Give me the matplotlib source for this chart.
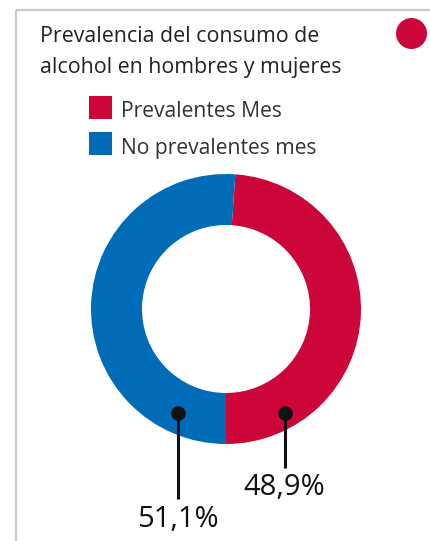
import matplotlib
matplotlib.use("Agg")
import matplotlib.pyplot as plt
from matplotlib.patches import Circle, Rectangle

# Data
categories = ["Prevalentes Mes", "No prevalentes mes"]
shares = [48.9, 51.1]
value_labels = ["48,9%", "51,1%"]
colors = ["#CC0638", "#006BB6"]
title_lines = ["Prevalencia del consumo de", "alcohol en hombres y mujeres"]

W, H = 431, 541
plt.rcParams["font.family"] = ["Open Sans", "DejaVu Sans"]

fig = plt.figure(figsize=(W / 100, H / 100), dpi=100)
ax = fig.add_axes([0, 0, 1, 1])

# Donut: red share runs clockwise and ends at six o'clock
cx, cy, r = 226, H - 309, 135
start = -90 + 360 * shares[0] / 100
wedges, _ = ax.pie(shares, colors=colors, startangle=start, counterclock=False,
                   center=(cx, cy), radius=r,
                   wedgeprops=dict(width=r - 84, linewidth=0))
ax.set_xlim(0, W)
ax.set_ylim(0, H)
ax.set_aspect("auto")
ax.axis("off")

# Card frame (top and left edges)
ax.plot([16, W], [H - 9.5, H - 9.5], color="#c9c9c9", lw=1.6, solid_capstyle="butt")
ax.plot([16, 16], [0, H - 9.5], color="#c9c9c9", lw=1.6, solid_capstyle="butt")

# Marker dot in the corner
ax.add_patch(Circle((411.5, H - 33.5), 15.5, color=colors[0], lw=0))

# Title, one line per baseline
for line, base in zip(title_lines, [42.5, 72.5]):
    ax.text(40, H - base, line, fontsize=15.4, color="#222222",
            va="baseline", ha="left")

# Legend: colour swatch plus label per category
for cat, col, top, base in zip(categories, colors, [96, 132], [117, 154]):
    ax.add_patch(Rectangle((89, H - top - 23), 23, 23, color=col, lw=0))
    ax.text(121, H - base, cat, fontsize=15.2, color="#333333",
            va="baseline", ha="left")

# Value callouts: dot on the ring, leader line, value text
callouts = [
    ((285.5, H - 413), H - 468, (284, H - 495)),
    ((178.3, H - 413), H - 499, (178, H - 527)),
]
for (dot, line_end, txt_pos), lab in zip(callouts, value_labels):
    ax.plot([dot[0], dot[0]], [dot[1], line_end], color="#111111", lw=2.2,
            solid_capstyle="butt")
    ax.plot(*dot, "o", color="#111111", ms=9.5)
    ax.text(*txt_pos, lab, fontsize=21, color="#111111", ha="center",
            va="baseline")

fig.savefig("out.png", dpi=100)
